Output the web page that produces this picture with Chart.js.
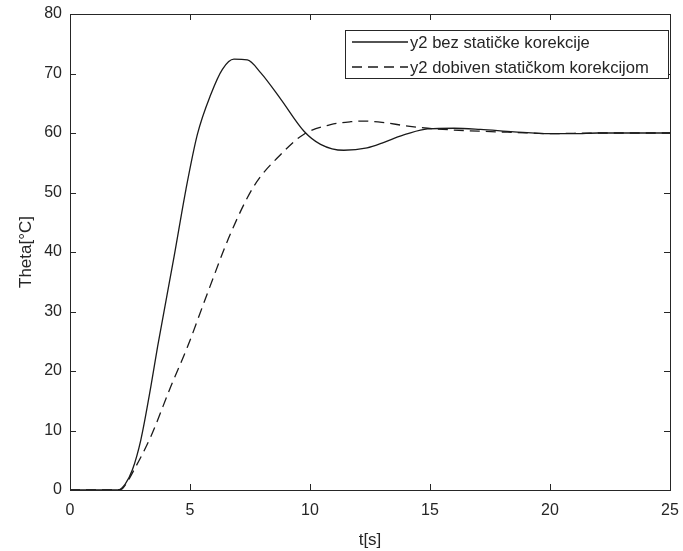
<!DOCTYPE html>
<html>
<head>
<meta charset="utf-8">
<script src="https://cdn.jsdelivr.net/npm/chart.js@4.4.1/dist/chart.umd.min.js"></script>
<style>
  html, body { margin: 0; padding: 0; background: #fff; }
  #wrap { width: 683px; height: 551px; }
</style>
</head>
<body>
<div id="wrap"><canvas id="c" width="683" height="551"></canvas></div>
<script>
// time points and values
const tSolid = [0, 2, 2.3, 2.6, 2.95, 3.37, 3.65, 4.34, 4.83, 5.31, 5.87, 6.35, 6.83, 7.39, 7.95, 8.78, 9.75, 10.44, 11.41, 12.38, 13, 13.5, 14, 14.9, 16, 17.1, 18.5, 20, 21, 22, 25];
const ySolid = [0, 0, 1, 3.4, 8.4, 17.4, 24.1, 39.3, 50.5, 59.8, 66.5, 70.7, 72.4, 72.3, 70.1, 65.7, 60.3, 58.1, 57.1, 57.5, 58.3, 59.1, 59.8, 60.7, 60.8, 60.6, 60.2, 59.9, 59.9, 60, 60];

const tDashed = [0, 2, 2.2, 2.67, 3.37, 4.2, 4.9, 5.73, 6.7, 7.67, 8.78, 9.75, 10.86, 11.7, 12.2, 13, 14, 14.9, 16, 17.1, 18.5, 20, 22, 25];
const yDashed = [0, 0, 0.3, 3.4, 9, 17.4, 24.1, 33.1, 43.2, 51.1, 56.4, 59.8, 61.4, 61.9, 62, 61.8, 61.2, 60.8, 60.5, 60.3, 60.1, 59.9, 60, 60];

const xTicks = [0, 5, 10, 15, 20, 25];
const yTicks = [0, 10, 20, 30, 40, 50, 60, 70, 80];
const seriesLabels = ["y2 bez statičke korekcije", "y2 dobiven statičkom korekcijom"];

const axisColor = '#262626';
const lineColor = '#1a1a1a';
const fontFamily = "'Liberation Sans', Arial, Helvetica, sans-serif";

function toPoints(xs, ys) {
    return xs.map((x, i) => ({ x: x, y: ys[i] }));
}

// box around the plot with MATLAB style inner ticks, plus legend
const matlabBox = {
    id: 'matlabBox',
    afterDraw(chart) {
        const ctx = chart.ctx;
        const a = chart.chartArea;
        const xs = chart.scales.x, ys = chart.scales.y;
        const tl = 6;
        ctx.save();
        ctx.strokeStyle = axisColor;
        ctx.lineWidth = 1;
        ctx.strokeRect(a.left + 0.5, a.top + 0.5, a.right - a.left, a.bottom - a.top);
        ctx.beginPath();
        xTicks.forEach(v => {
            const px = Math.round(xs.getPixelForValue(v)) + 0.5;
            ctx.moveTo(px, a.bottom); ctx.lineTo(px, a.bottom - tl);
            ctx.moveTo(px, a.top); ctx.lineTo(px, a.top + tl);
        });
        yTicks.forEach(v => {
            const py = Math.round(ys.getPixelForValue(v)) + 0.5;
            ctx.moveTo(a.left, py); ctx.lineTo(a.left + tl, py);
            ctx.moveTo(a.right, py); ctx.lineTo(a.right - tl, py);
        });
        ctx.stroke();

        // legend
        const lx = 345, ly = 30, lw = 323, lh = 48;
        ctx.fillStyle = '#fff';
        ctx.fillRect(lx, ly, lw, lh);
        ctx.strokeStyle = axisColor;
        ctx.strokeRect(lx + 0.5, ly + 0.5, lw, lh);
        ctx.font = '16.6px ' + fontFamily;
        ctx.textBaseline = 'middle';
        ctx.fillStyle = axisColor;
        chart.data.datasets.forEach((ds, i) => {
            const yy = ly + 12 + i * 25;
            ctx.beginPath();
            ctx.strokeStyle = lineColor;
            ctx.lineWidth = 1.3;
            ctx.setLineDash(ds.borderDash || []);
            ctx.moveTo(lx + 7, yy);
            ctx.lineTo(lx + 63, yy);
            ctx.stroke();
            ctx.setLineDash([]);
            ctx.fillText(ds.label, lx + 65, yy + 1);
        });
        ctx.restore();
    }
};

new Chart(document.getElementById('c').getContext('2d'), {
    type: 'line',
    data: {
        datasets: [
            {
                label: seriesLabels[0],
                data: toPoints(tSolid, ySolid),
                borderColor: lineColor,
                borderWidth: 1.3,
                pointRadius: 0,
                cubicInterpolationMode: 'monotone',
                fill: false
            },
            {
                label: seriesLabels[1],
                data: toPoints(tDashed, yDashed),
                borderColor: lineColor,
                borderWidth: 1.3,
                borderDash: [10, 6],
                pointRadius: 0,
                cubicInterpolationMode: 'monotone',
                fill: false
            }
        ]
    },
    options: {
        responsive: false,
        animation: false,
        layout: { padding: { top: 14, right: 13, left: 0, bottom: 0 } },
        plugins: {
            legend: { display: false },
            tooltip: { enabled: false }
        },
        scales: {
            x: {
                type: 'linear',
                min: 0,
                max: 25,
                afterBuildTicks: s => { s.ticks = xTicks.map(v => ({ value: v })); },
                afterFit: s => { s.height = 61; s.paddingLeft = 0; s.paddingRight = 0; },
                grid: { display: false, drawTicks: false },
                border: { display: false },
                ticks: { color: axisColor, padding: 11, font: { family: fontFamily, size: 16 } },
                title: {
                    display: true,
                    text: 't[s]',
                    color: axisColor,
                    padding: { top: 2, bottom: 0 },
                    font: { family: fontFamily, size: 17 }
                }
            },
            y: {
                min: 0,
                max: 80,
                afterBuildTicks: s => { s.ticks = yTicks.map(v => ({ value: v })); },
                afterFit: s => { s.width = 70; s.paddingTop = 0; s.paddingBottom = 0; },
                grid: { display: false, drawTicks: false },
                border: { display: false },
                ticks: { color: axisColor, padding: 8, font: { family: fontFamily, size: 16 } },
                title: {
                    display: true,
                    text: 'Theta[°C]',
                    color: axisColor,
                    padding: { top: 16, bottom: 0 },
                    font: { family: fontFamily, size: 17 }
                }
            }
        }
    },
    plugins: [matlabBox]
});
</script>
</body>
</html>
